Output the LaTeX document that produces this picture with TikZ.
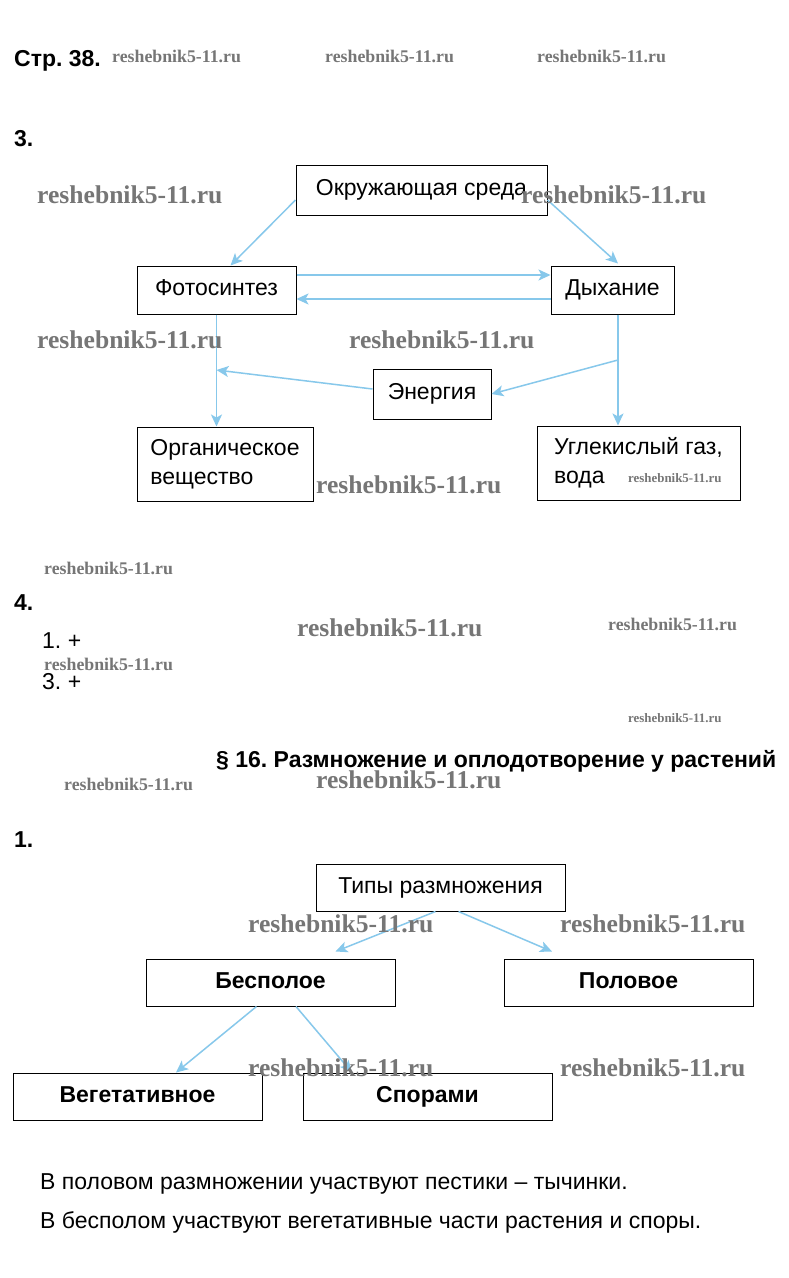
\documentclass[tikz,border=0pt]{standalone}
\usepackage{fontspec}
\setmainfont{Liberation Sans}
\newfontfamily\wmfont{Liberation Serif}
\usetikzlibrary{arrows.meta, positioning}
\definecolor{arrowblue}{RGB}{135,200,235}
\definecolor{wmgray}{RGB}{118,118,118}
\frenchspacing

\begin{document}
\begin{tikzpicture}[x=1pt,y=-1pt]
        \useasboundingbox[fill=white] (0,0) rectangle (788,1278);
        % plain text
        \begin{scope}[every node/.style={anchor=west,inner sep=0pt,text height=16.5pt,text depth=0pt,font=\fontsize{23}{27}\selectfont}]
          \node[font=\bfseries\fontsize{23}{27}\selectfont] (page) at (14,58) {Стр. 38.};
          \node[font=\bfseries\fontsize{23}{27}\selectfont] (ex3) at (14,138) {3.};
          \node[font=\bfseries\fontsize{23}{27}\selectfont] (ex4) at (14,602) {4.};
          \node (ans1) at (42,640) {1. +};
          \node (ans3) at (42,681) {3. +};
          \node[font=\bfseries\fontsize{23}{27}\selectfont] (par) at (216,759) {§ 16. Размножение и оплодотворение у растений};
          \node[font=\bfseries\fontsize{23}{27}\selectfont] (ex1) at (14,839) {1.};
          \node (line1) at (40,1181) {В половом размножении участвуют пестики – тычинки.};
          \node (line2) at (40,1220) {В бесполом участвуют вегетативные части растения и споры.};
        \end{scope}
        % boxes
        \begin{scope}[every node/.style={draw,line width=1pt,inner sep=0pt,align=left,font=\fontsize{23}{29}\selectfont}]
          \node[minimum width=251pt,minimum height=50pt,text height=16pt,text depth=5pt] (env) at (421.5,190) {Окружающая среда};
          \node[minimum width=159pt,minimum height=48pt,text height=16pt,text depth=5pt] (photo) at (216.5,290) {Фотосинтез};
          \node[minimum width=123pt,minimum height=48pt,text height=16pt,text depth=5pt] (resp) at (612.5,290) {Дыхание};
          \node[minimum width=118pt,minimum height=50pt,text height=16pt,text depth=5pt] (energy) at (432,394) {Энергия};
          \node[minimum width=176pt,minimum height=74pt] (organic) at (225,464) {Органическое\\вещество};
          \node[minimum width=203pt,minimum height=74pt] (gas) at (638.5,463) {Углекислый газ,\\вода\hspace*{76pt}};
        \end{scope}
        \begin{scope}[every node/.style={draw,line width=1pt,inner sep=0pt,minimum width=249pt,minimum height=47pt,text height=16pt,text depth=5pt,font=\fontsize{23}{27}\selectfont}]
          \node (types) at (440.5,887.5) {Типы размножения};
          \node[font=\bfseries\fontsize{23}{27}\selectfont] (asex) at (270.5,982.5) {Бесполое};
          \node[font=\bfseries\fontsize{23}{27}\selectfont] (sex) at (628.5,982.5) {Половое};
          \node[font=\bfseries\fontsize{23}{27}\selectfont] (veg) at (137.5,1096.5) {Вегетативное};
          \node[font=\bfseries\fontsize{23}{27}\selectfont] (spores) at (427.5,1096.5) {Спорами};
        \end{scope}
        \coordinate (leftjoin) at (photo.south |- 0,370);
        \coordinate (rightjoin) at ([xshift=5.5pt]resp.south |- 0,360);
        \begin{scope}[every edge/.style={draw=arrowblue,line width=1.5pt,-{Stealth[length=12pt,width=11pt,inset=3pt]}}]
          \path ([yshift=-10pt]env.west) edge ([xshift=14pt]photo.north);
          \path ([yshift=-10pt]env.east) edge ([xshift=5.5pt,yshift=2pt]resp.north);
          \path ([yshift=15pt]photo.east) edge ([yshift=15pt]resp.west);
          \path ([yshift=-9pt]resp.west) edge ([yshift=-9pt]photo.east);
          \path (photo.south) edge (photo.south |- organic.north);
          \path ([xshift=5.5pt]resp.south) edge ([xshift=5.5pt]resp.south |- gas.north);
          \path ([yshift=5pt]energy.west) edge (leftjoin);
          \path (rightjoin) edge (energy.east);
          \path ([xshift=-5pt]types.south) edge ([xshift=65pt,yshift=7pt]asex.north);
          \path ([xshift=18pt]types.south) edge ([xshift=-76.5pt,yshift=7pt]sex.north);
          \path ([xshift=-14pt]asex.south) edge ([xshift=38.5pt]veg.north);
          \path ([xshift=25.5pt]asex.south) edge ([xshift=-75.5pt]spores.north);
        \end{scope}
        % watermarks
        \begin{scope}[every node/.style={anchor=west,inner sep=0pt,text=wmgray,font=\wmfont\bfseries\fontsize{25.6}{28}\selectfont}]
          \node (wm1) at (37,195) {reshebnik5-11.ru};
          \node (wm2) at (521,195) {reshebnik5-11.ru};
          \node (wm3) at (37,340) {reshebnik5-11.ru};
          \node (wm4) at (349,340) {reshebnik5-11.ru};
          \node (wm5) at (316,485) {reshebnik5-11.ru};
          \node (wm6) at (297,628) {reshebnik5-11.ru};
          \node (wm7) at (316,780) {reshebnik5-11.ru};
          \node (wm8) at (248,924) {reshebnik5-11.ru};
          \node (wm9) at (560,924) {reshebnik5-11.ru};
          \node (wm10) at (248,1068) {reshebnik5-11.ru};
          \node (wm11) at (560,1068) {reshebnik5-11.ru};
        \end{scope}
        \begin{scope}[every node/.style={anchor=west,inner sep=0pt,text=wmgray,font=\wmfont\bfseries\fontsize{17.8}{20}\selectfont}]
          \node (wm12) at (112,56) {reshebnik5-11.ru};
          \node (wm13) at (325,56) {reshebnik5-11.ru};
          \node (wm14) at (537,56) {reshebnik5-11.ru};
          \node (wm15) at (44,568) {reshebnik5-11.ru};
          \node (wm16) at (608,624) {reshebnik5-11.ru};
          \node (wm17) at (44,664) {reshebnik5-11.ru};
          \node (wm18) at (64,784) {reshebnik5-11.ru};
          \node[font=\wmfont\bfseries\fontsize{12.9}{15}\selectfont] (wm19) at (628,478) {reshebnik5-11.ru};
          \node[font=\wmfont\bfseries\fontsize{12.9}{15}\selectfont] (wm20) at (628,718) {reshebnik5-11.ru};
        \end{scope}
      \end{tikzpicture}
\end{document}
